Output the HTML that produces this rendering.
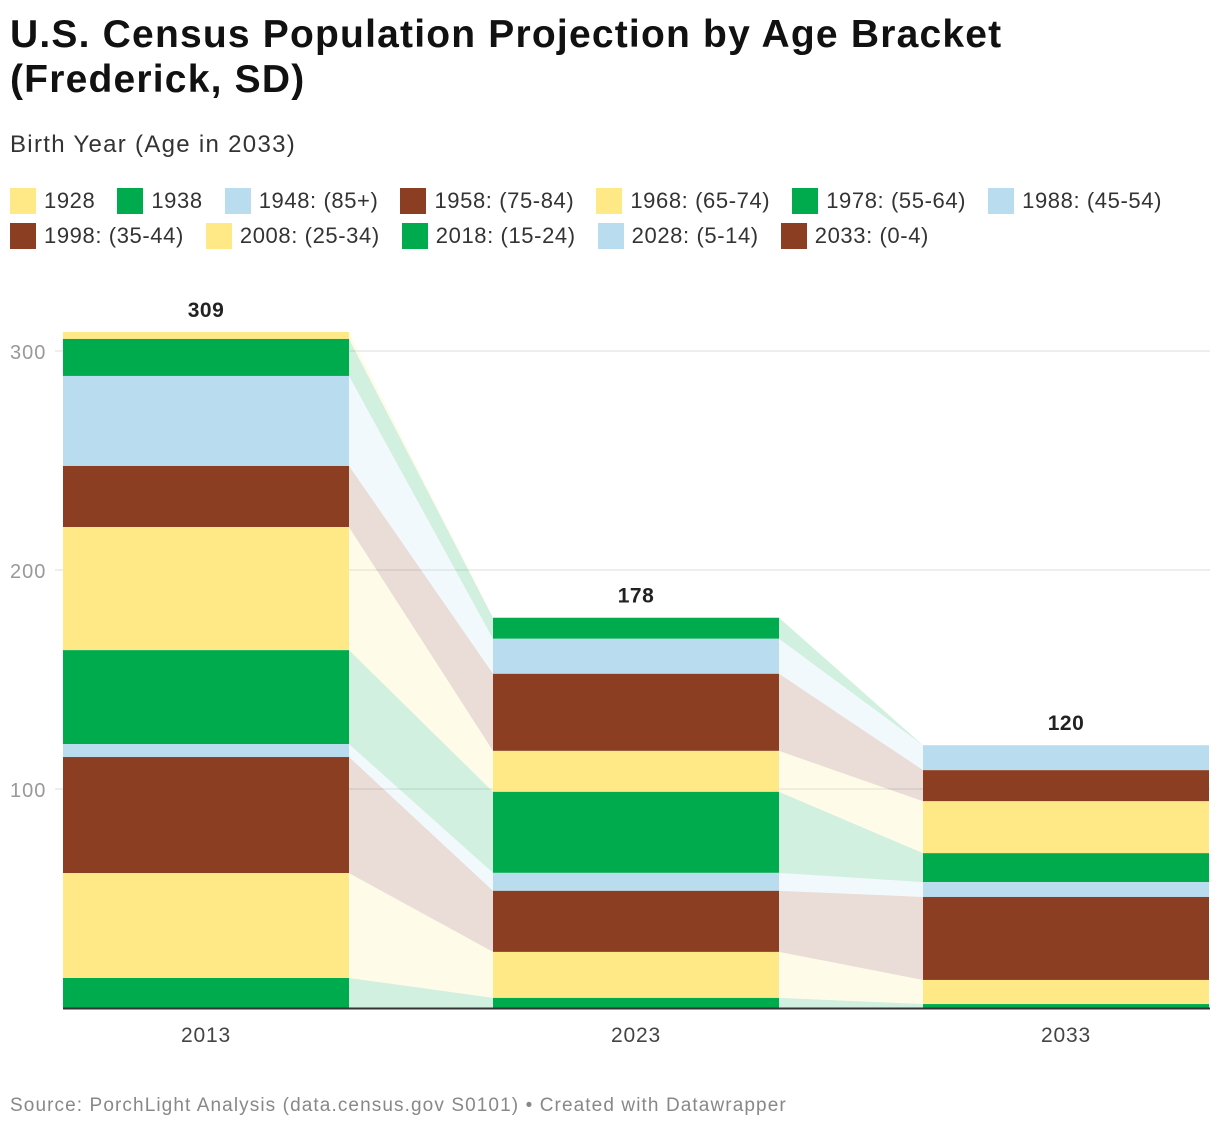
<!DOCTYPE html>
<html><head><meta charset="utf-8"><style>
body{margin:0;background:#fff;font-family:"Liberation Sans",Roboto,sans-serif;}
#wrap{position:relative;width:1220px;height:1132px;overflow:hidden}
h1{position:absolute;left:10px;top:12px;margin:0;font-size:39px;line-height:45px;font-weight:bold;color:#111;letter-spacing:1.2px}
.sub{position:absolute;left:10px;top:131px;font-size:24px;color:#333;letter-spacing:1.3px}
.leg{position:absolute;left:10px;font-size:22px;color:#333;display:flex;gap:0;letter-spacing:0.6px}
.li{display:flex;align-items:center;margin-right:22px}
.sw{width:26px;height:26px;margin-right:8px}
.src{position:absolute;left:10px;top:1095px;font-size:19px;color:#888;letter-spacing:1.1px}
</style></head><body><div id="wrap">
<h1>U.S. Census Population Projection by Age Bracket<br>(Frederick, SD)</h1>
<div class="sub">Birth Year (Age in 2033)</div>
<div class="leg" id="leg1" style="top:188px"></div>
<div class="leg" id="leg2" style="top:223px"></div>
<svg id="svg" width="1220" height="1132" style="position:absolute;left:0;top:0"></svg>
<div class="src">Source: PorchLight Analysis (data.census.gov S0101) • Created with Datawrapper</div>
</div>
<script>
const years=["2013","2023","2033"];
const seriesNames=["1928","1938","1948: (85+)","1958: (75-84)","1968: (65-74)","1978: (55-64)","1988: (45-54)","1998: (35-44)","2008: (25-34)","2018: (15-24)","2028: (5-14)","2033: (0-4)"];
const v2013=[3.2,16.9,41.1,27.9,56.2,42.9,5.9,53,47.9,13.7,0,0];
const v2023=[0,9.6,16,35.2,18.7,37,8.2,27.9,21,4.6,0,0];
const v2033=[0,0,11.4,14.2,23.7,13.2,6.8,37.9,11,1.8,0,0];
const totals=["309","178","120"];
const yTicks=[100,200,300];
const cols=["#fee986","#00ab4e","#b9dcee","#8b3e22"];
const data=[v2013,v2023,v2033];
const NS="http://www.w3.org/2000/svg";
const svg=document.getElementById('svg');
const y=v=>1008-v*2.19;
const bx=i=>63+i*430, bw=286;
function mk(t,a){const e=document.createElementNS(NS,t);for(const k in a)e.setAttribute(k,a[k]);svg.appendChild(e);return e;}
yTicks.forEach(t=>{const l=mk('line',{x1:55,x2:1210,y1:y(t),y2:y(t),stroke:'#ddd','stroke-width':1});

const tx=mk('text',{x:10,y:y(t)+8,'font-size':20,fill:'#999','font-family':'Liberation Sans','letter-spacing':1});tx.textContent=t;
});
const cum=data.map(d=>{let c=0,o=[];for(let k=d.length-1;k>=0;k--){o[k]=[c,c+d[k]];c+=d[k];}return o;});
for(let i=0;i<2;i++){seriesNames.forEach((s,k)=>{const a=cum[i][k],b=cum[i+1][k];if(data[i][k]<=0&&data[i+1][k]<=0)return;
const x1=bx(i)+bw,x2=bx(i+1);
const p=mk('polygon',{points:`${x1},${y(a[1])} ${x2},${y(b[1])} ${x2},${y(b[0])} ${x1},${y(a[0])}`,fill:cols[k%4],opacity:0.18});
});}
data.forEach((d,i)=>{d.forEach((v,k)=>{if(v<=0)return;const c=cum[i][k];
const r=mk('rect',{x:bx(i),y:y(c[1]),width:bw,height:y(c[0])-y(c[1]),fill:cols[k%4]});
});
const tot=d.reduce((a,b)=>a+b,0);
const t=mk('text',{x:bx(i)+bw/2,y:y(tot)-15,'text-anchor':'middle','font-size':21,'font-weight':'bold',fill:'#222','font-family':'Liberation Sans','letter-spacing':0.5});t.textContent=totals[i];

const xl=mk('text',{x:bx(i)+bw/2,y:1042,'text-anchor':'middle','font-size':21,fill:'#444','font-family':'Liberation Sans','letter-spacing':0.8});xl.textContent=years[i];
});
const base=mk('line',{x1:63,x2:1210,y1:1008.5,y2:1008.5,stroke:'#333','stroke-width':2});

seriesNames.forEach((s,k)=>{const row=document.getElementById(k<7?'leg1':'leg2');
const li=document.createElement('div');li.className='li';

li.innerHTML=`<div class="sw" style="background:${cols[k%4]}"></div><span>${s}</span>`;row.appendChild(li);});
</script></body></html>
